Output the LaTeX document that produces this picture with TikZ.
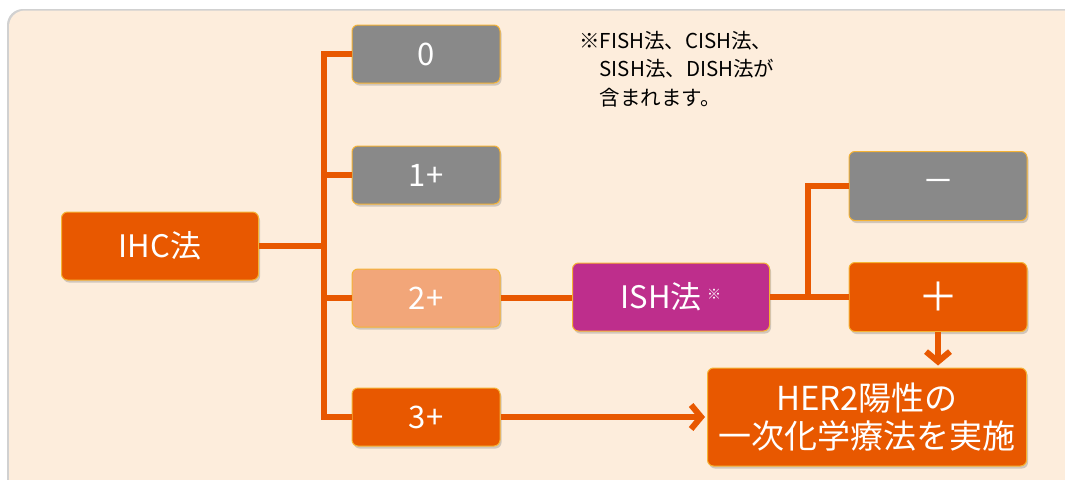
\documentclass[tikz,border=0pt]{standalone}
\usepackage{fontspec}
\setmainfont{Noto Sans CJK JP}
\usetikzlibrary{shadows,arrows.meta}
\definecolor{bgc}{HTML}{FDEDDC}
\definecolor{org}{HTML}{E85800}
\definecolor{gry}{HTML}{898989}
\definecolor{salm}{HTML}{F2A679}
\definecolor{mag}{HTML}{BE2E8C}
\definecolor{edgec}{HTML}{F5B335}
\begin{document}
\begin{tikzpicture}[x=1pt,y=-1pt,
  box/.style={draw=edgec, line width=1pt, rounded corners=6pt, text=white,
    font=\fontsize{31}{36}\selectfont, align=center, inner sep=0pt,
    drop shadow={opacity=0.35, shadow xshift=1.5pt, shadow yshift=-2.5pt}},
  small/.style={box, minimum width=148pt, minimum height=58pt},
  big/.style={box, minimum width=197pt, minimum height=68pt},
  res/.style={box, minimum width=178pt, minimum height=69pt, font=\fontsize{40}{40}\selectfont},
  conn/.style={draw=org, line width=6pt},
  arr/.style={conn, -{Straight Barb[length=10pt,width=24pt]}},
  note/.style={font=\fontsize{20.5}{28.5}\selectfont, align=left, inner sep=0pt, text=black}]
\useasboundingbox (0,0) rectangle (1065,479);
\fill[white] (0,0) rectangle (1065,479);
\fill[black!18, rounded corners=16pt] (7,9) rectangle (1090,500);
\fill[bgc, rounded corners=16pt] (9,10.5) rectangle (1090,500);

\node[big, fill=org] (ihc) at (160,246) {IHC法};
\node[small, fill=gry] (b0) at (426,54) {0};
\node[small, fill=gry] (b1) at (426,175) {1+};
\node[small, fill=salm] (b2) at (426,298) {2+};
\node[small, fill=org] (b3) at (426,417) {3+};
\node[big, fill=mag] (ish) at (671,297) {ISH法\,\raisebox{9pt}{\fontsize{14}{14}\selectfont ※}};
\node[res, fill=gry, font=\fontsize{32}{32}\selectfont] (minus) at (938,186) {－};
\node[res, fill=org] (plus) at (938,297) {＋};
\node[box, fill=org, minimum width=319pt, minimum height=98pt,
  font=\fontsize{33}{38}\selectfont] (her) at (867,417) {HER2陽性の\\一次化学療法を実施};

\node[note, anchor=north west] (nt) at (579,31)
  {※FISH法、CISH法、\\\hspace*{1em}SISH法、DISH法が\\\hspace*{1em}含まれます。};

\coordinate (t0) at (324,54);
\coordinate (t3) at (324,417);
\coordinate (br) at (808,297);
\draw[conn] (b0.west) -- (t0) -- (t3) -- (b3.west);
\draw[conn] (b1.west) -- (b1.west -| t0);
\draw[conn] (b2.west) -- (b2.west -| t0);
\draw[conn] (ihc.east) -- (ihc.east -| t0);
\draw[conn] (b2.east) -- (b2.east -| ish.west);
\draw[conn] (ish.east) -- (ish.east -| plus.west);
\draw[conn] (br) |- (minus.west);
\draw[arr] (plus.south) -- ([yshift=2pt]plus.south |- her.north);
\draw[arr] (b3.east) -- ([xshift=-2pt]her.west);
\end{tikzpicture}
\end{document}
